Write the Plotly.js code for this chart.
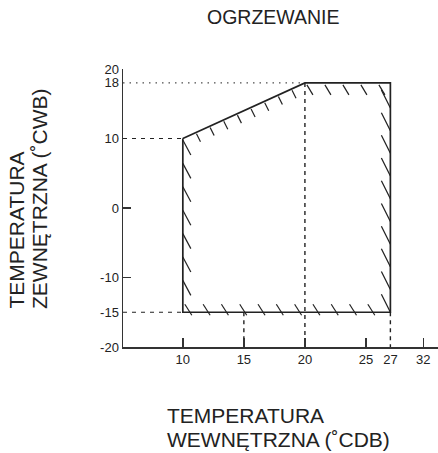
<!DOCTYPE html>
<html><head><meta charset="utf-8">
<script src="https://cdn.plot.ly/plotly-3.0.1.min.js"></script>
<style>html,body{margin:0;padding:0;background:#fff}</style>
</head><body><div id="chart" style="width:438px;height:453px"></div>
<script>
// ---- data ----
const chartTitle = 'OGRZEWANIE';
const xTitleLines = ['TEMPERATURA', 'WEWNĘTRZNA (˚CDB)'];
const yTitleLines = ['TEMPERATURA', 'ZEWNĘTRZNA (˚CWB)'];
const xTickLabels = ['10', '15', '20', '25', '27', '32'];
const xTickPositions = [10, 15, 20, 25, 27, 29.7];
const xTickMarks = [10, 15, 20, 25, 29.7];
const yTickLabels = ['-20', '-15', '-10', '0', '10', '18', '20'];
const yTickPositions = [-20, -15, -10, 0, 10, 18, 20];
const yTickMarks = [-20, -10, 0, 20];
// operating-range boundary: indoor dry bulb (x) vs outdoor wet bulb (y)
const indoorTemp = [10, 20, 27, 27, 10, 10];
const outdoorTemp = [10, 18, 18, -15, -15, 10];
// guide lines
const hGuideY = [10, -15, 18];
const hGuideEndX = [10, 10, 20];
const vGuideX = [15, 20, 27];
const vGuideTopY = [-15, 18, -15];

// ---- layout constants ----
const W = 438, H = 453;
const M = {l: 123, r: 0, t: 69, b: 106};
const xRange = [5.1, 30.9], yRange = [-20, 20];
const plotW = W - M.l - M.r, plotH = H - M.t - M.b;
const ink = '#222';
const font = 'Liberation Sans, Arial, sans-serif';

const px = x => M.l + (x - xRange[0]) / (xRange[1] - xRange[0]) * plotW;
const py = y => M.t + (yRange[1] - y) / (yRange[1] - yRange[0]) * plotH;
const ix = p => xRange[0] + (p - M.l) / plotW * (xRange[1] - xRange[0]);
const iy = p => yRange[1] - (p - M.t) / plotH * (yRange[1] - yRange[0]);
const paperX = p => (p - M.l) / plotW;
const paperY = p => (M.t + plotH - p) / plotH;

// ---- hatching along the boundary (pixel-styled ticks) ----
const hx = [], hy = [];
function hatchEdge(i, spacing, offset, gap, fromEnd, v0, v1) {
  const ax = px(indoorTemp[i]), ay = py(outdoorTemp[i]);
  const bx = px(indoorTemp[i + 1]), by = py(outdoorTemp[i + 1]);
  const L = Math.hypot(bx - ax, by - ay), ux = (bx - ax) / L, uy = (by - ay) / L;
  const ds = [];
  if (fromEnd) { for (let d = L - offset; d >= gap; d -= spacing) ds.push(d); }
  else { for (let d = offset; d <= L - gap; d += spacing) ds.push(d); }
  ds.forEach(d => {
    const cx = ax + ux * d, cy = ay + uy * d;
    hx.push(ix(cx + v0[0]), ix(cx + v1[0]), null);
    hy.push(iy(cy + v0[1]), iy(cy + v1[1]), null);
  });
}
hatchEdge(0, 15, 15, 8, false, [0, 1.5], [4, 9.5]);     // slope
hatchEdge(1, 18, 2, 10, false, [0, 2], [6, 12]);        // top
hatchEdge(2, 22.7, 0, 20, true, [-9, -18], [0, 0]);     // right
hatchEdge(3, 18.3, 2, 15, true, [0, -8], [7, 3]);       // bottom
hatchEdge(4, 23.4, 1.5, 25, true, [0, 0], [8, 15]);     // left

const traces = [];
hGuideY.forEach((y, k) => {
  traces.push({x: [xRange[0], hGuideEndX[k]], y: [y, y], mode: 'lines', hoverinfo: 'skip', showlegend: false,
    line: {color: ink, width: k === 2 ? 1 : 1.2, dash: k === 2 ? '1.5px,5px' : '4px,5px'}});
});
vGuideX.forEach((x, k) => {
  traces.push({x: [x, x], y: [vGuideTopY[k], yRange[0]], mode: 'lines', hoverinfo: 'skip', showlegend: false,
    line: {color: ink, width: 1.4, dash: '4px,4px'}});
});
traces.push({x: indoorTemp, y: outdoorTemp, mode: 'lines', hoverinfo: 'skip', showlegend: false,
  line: {color: ink, width: 1.7}});
traces.push({x: hx, y: hy, xaxis: 'x2', yaxis: 'y2', mode: 'lines', hoverinfo: 'skip', showlegend: false,
  line: {color: ink, width: 1.2}, connectgaps: false});

const axBase = {showgrid: false, zeroline: false, fixedrange: true};
const tfont = {family: font, size: 21, color: ink};
const ann = (text, x, y, xa, ya, angle) => ({text, xref: 'paper', yref: 'paper', x: paperX(x), y: paperY(y),
  xanchor: xa, yanchor: ya, textangle: angle || 0, showarrow: false, font: tfont});
const layout = {
  width: W, height: H, margin: M, paper_bgcolor: '#fff', plot_bgcolor: '#fff',
  font: {family: font, color: ink},
  xaxis: Object.assign({}, axBase, {range: xRange, tickmode: 'array', tickvals: xTickPositions, ticktext: xTickLabels,
    ticks: '', showline: true, linecolor: '#333', linewidth: 1.5, tickfont: {size: 13, color: ink}}),
  yaxis: Object.assign({}, axBase, {range: yRange, tickmode: 'array', tickvals: yTickPositions, ticktext: yTickLabels,
    ticks: '', showline: true, linecolor: '#333', linewidth: 1.5, tickfont: {size: 13, color: ink}}),
  xaxis2: Object.assign({}, axBase, {range: xRange, overlaying: 'x', anchor: 'y', side: 'bottom', tickmode: 'array',
    tickvals: xTickMarks, ticks: 'inside', ticklen: 9, tickwidth: 1.5, tickcolor: '#333', showticklabels: false, showline: false}),
  yaxis2: Object.assign({}, axBase, {range: yRange, overlaying: 'y', anchor: 'x', side: 'left', tickmode: 'array',
    tickvals: yTickMarks, ticks: 'inside', ticklen: 8, tickwidth: 1.5, tickcolor: '#333', showticklabels: false, showline: false}),
  annotations: [
    Object.assign(ann(chartTitle, 273, 17, 'center', 'middle'), {font: {family: font, size: 19.5, color: ink}}),
    ann(xTitleLines[0], 165, 415, 'left', 'middle'),
    ann(xTitleLines[1], 165, 439, 'left', 'middle'),
    ann(yTitleLines[0], 16, 311, 'center', 'bottom', -90),
    ann(yTitleLines[1], 39, 311, 'center', 'bottom', -90)
  ]
};
Plotly.newPlot('chart', traces, layout, {displayModeBar: false, staticPlot: true});
</script></body></html>
